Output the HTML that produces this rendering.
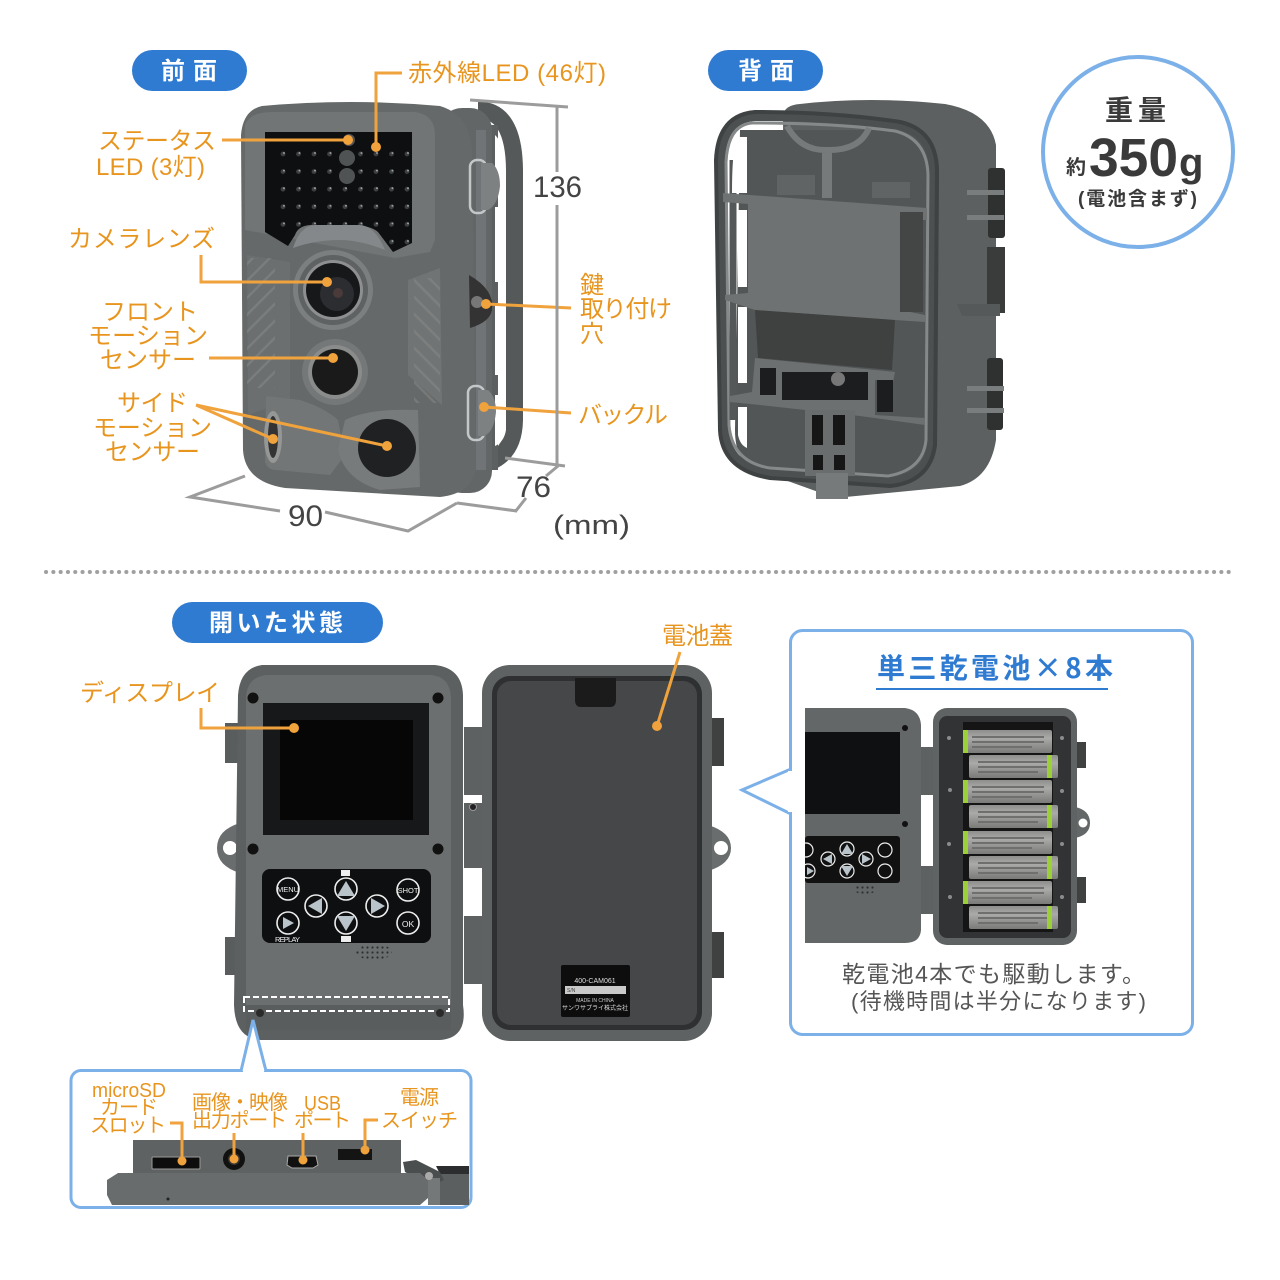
<!DOCTYPE html>
<html><head><meta charset="utf-8"><style>
html,body{margin:0;padding:0;background:#fff}
svg{display:block}
text{font-family:"Liberation Sans","Noto Sans CJK JP",sans-serif}
.o{fill:#e8951f;font-size:24px}
.s{fill:#e8951f;font-size:20px}
.g{fill:#444;font-size:30px}
.w{fill:#fff;font-size:24px;font-weight:700}
.l{fill:none;stroke:#f0a23c;stroke-width:3}
.d{fill:#f0a23c}
.dm{fill:none;stroke:#9c9c9c;stroke-width:3}
.k{fill:none;stroke:#eee;stroke-width:1.6}
.a{fill:#b9c4ca}
</style></head><body>
<svg width="1280" height="1280" viewBox="0 0 1280 1280" xmlns="http://www.w3.org/2000/svg">
<defs>
<pattern id="leds" x="275" y="146" width="15.5" height="17.6" patternUnits="userSpaceOnUse"><circle cx="8" cy="8" r="2.4" fill="#3c4042"/><circle cx="9" cy="7" r="1" fill="#9da2a2"/></pattern>
<pattern id="vent" width="12" height="12" patternUnits="userSpaceOnUse" patternTransform="rotate(-45)"><rect width="12" height="2.5" fill="#8b8d8d"/></pattern>
<pattern id="vent2" width="12" height="12" patternUnits="userSpaceOnUse" patternTransform="rotate(45)"><rect width="12" height="2.5" fill="#8b8d8d"/></pattern>
<pattern id="spk" width="5" height="5" patternUnits="userSpaceOnUse"><circle cx="2.5" cy="2.5" r="1.1" fill="#2e3030"/></pattern>
<linearGradient id="batg" x1="0" y1="0" x2="0" y2="1"><stop offset="0" stop-color="#8e8e8c"/><stop offset=".35" stop-color="#aaaaa8"/><stop offset="1" stop-color="#7a7a78"/></linearGradient>
<g id="bat"><rect x="0" y="0" width="89" height="23" rx="2" fill="url(#batg)"/><rect x="9" y="6" width="72" height="2" fill="#6f6f6d"/><rect x="9" y="11" width="72" height="2" fill="#6f6f6d"/><rect x="9" y="16" width="60" height="2" fill="#6f6f6d"/></g>
<clipPath id="mini"><rect x="805" y="700" width="130" height="250"/></clipPath>
</defs>

<!-- pills -->
<rect x="132" y="50" width="115" height="41" rx="20.5" fill="#2f7bd2"/>
<text class="w" x="161" y="79" textLength="56">前面</text>
<rect x="708" y="50" width="115" height="41" rx="20.5" fill="#2f7bd2"/>
<text class="w" x="738" y="79" textLength="56">背面</text>
<rect x="172" y="602" width="211" height="41" rx="20.5" fill="#2f7bd2"/>
<text class="w" x="209" y="631" textLength="134">開いた状態</text>

<!-- FRONT CAMERA -->
<path d="M478 110 Q514 110 514.5 170 L514.5 420 Q514 452 490 462" fill="none" stroke="#55595a" stroke-width="17"/>
<rect x="470" y="125" width="28" height="345" fill="#5d6061"/>
<path d="M495 135 Q506 145 506 187 H495Z M495 207 H506 V282 H495Z M495 303 H506 V375 H495Z M495 395 H506 V430 Q504 442 495 446Z" fill="#fff"/>
<rect x="440" y="108" width="52" height="385" rx="22" fill="#636667"/>
<rect x="476" y="130" width="10" height="340" fill="#7b8085" opacity=".55"/>
<path d="M262 106 Q350 98 440 106 Q470 115 472 150 L476 470 Q470 494 440 497 L285 488 Q245 482 243 450 L241 135 Q243 110 262 106Z" fill="#666969"/>
<path d="M245 125 Q250 112 272 112 H415 Q435 115 435 135 V240 L430 252 L395 258 L245 230Z" fill="#727575"/>
<path d="M265 132 H412 V243 L393 252 L378 232 Q370 225 350 225 H310 Q298 226 295 235 L288 246 L265 232Z" fill="#0e0f10"/>
<path d="M278 146 H412 V243 L393 252 L378 232 Q370 225 350 225 H310 Q298 226 295 235 L288 240 L278 234Z" fill="url(#leds)"/>
<circle cx="347" cy="158" r="8" fill="#4f5353"/><circle cx="347" cy="176" r="8" fill="#4f5353"/><circle cx="349" cy="140" r="6" fill="#555"/>
<path d="M293 248 Q300 226 315 225 H360 Q375 226 385 250 Q360 240 340 240 Q315 240 293 248Z" fill="#85888a"/>
<path d="M247 255 L290 262 L290 400 L248 415Z" fill="#6c6f6f"/>
<rect x="247" y="258" width="28" height="130" fill="url(#vent)" opacity=".45"/>
<path d="M408 280 L440 268 L442 405 L408 375Z" fill="#717474"/>
<rect x="414" y="278" width="26" height="125" fill="url(#vent2)" opacity=".45"/>
<circle cx="333" cy="290" r="40" fill="#7c7f7f"/><circle cx="333" cy="290" r="35" fill="#5f6262"/><circle cx="333" cy="290" r="30" fill="#8d8f90"/><circle cx="333" cy="290" r="27" fill="#17181a"/><circle cx="337" cy="294" r="17" fill="#2b2d30"/><circle cx="338" cy="293" r="5" fill="#4a3a3a"/>
<circle cx="335" cy="372" r="33" fill="#757878"/><circle cx="335" cy="372" r="27" fill="#8a8c8c"/><circle cx="335" cy="372" r="23" fill="#1a1a1a"/>
<path d="M266 396 L300 400 Q325 408 338 420 L345 455 L330 475 L276 470 Q268 470 265 462Z" fill="#737676"/>
<ellipse cx="273" cy="437" rx="9" ry="26" fill="#959797"/><ellipse cx="273" cy="437" rx="5" ry="21" fill="#333"/>
<path d="M345 420 Q370 408 418 410 L420 487 L380 490 Q345 480 338 450Z" fill="#787b7b"/>
<circle cx="387" cy="448" r="29" fill="#202122"/>
<rect x="470" y="160" width="16" height="53" rx="7" fill="none" stroke="#c4c7c7" stroke-width="2.5"/><path d="M481 163 H492 Q500 170 500 186 Q498 205 488 210 H481Z" fill="#7e8181"/>
<rect x="468" y="386" width="16" height="54" rx="7" fill="none" stroke="#c4c7c7" stroke-width="2.5"/><path d="M478 390 H488 Q496 397 496 412 Q494 432 484 436 H478Z" fill="#7e8181"/>
<path d="M469 275 Q495 290 492 310 Q490 322 470 328Z" fill="#333"/><circle cx="477" cy="302" r="6" fill="#777"/>

<!-- front leaders -->
<path class="l" d="M402 73 H376 V147"/><circle class="d" cx="376" cy="147" r="5"/>
<path class="l" d="M222 140 H350"/><circle class="d" cx="348" cy="140" r="5"/>
<path class="l" d="M201 255 V282 H327"/><circle class="d" cx="327" cy="282" r="5"/>
<path class="l" d="M209 358 H333"/><circle class="d" cx="333" cy="358" r="5"/>
<path class="l" d="M196 405 L273 439 M196 405 L387 446"/><circle class="d" cx="273" cy="439" r="5"/><circle class="d" cx="387" cy="446" r="5"/>
<path class="l" d="M486 304 L571 308"/><circle class="d" cx="486" cy="304" r="5"/>
<path class="l" d="M484 407 L571 413"/><circle class="d" cx="484" cy="407" r="5"/>

<!-- dims -->
<path class="dm" d="M470 100 L568 107 M557 107 V172 M557 205 V465 M505 458 L565 466 M558 466 L546 476 M526 498 L515 512 M457 503 L517 511"/>
<path class="dm" d="M245 476 L190 497 L280 511 M325 512 L408 531 L457 503"/>

<!-- front labels -->
<text class="o" x="408" y="81" textLength="198">赤外線LED (46灯)</text>
<text class="o" x="98" y="149" textLength="118">ステータス</text>
<text class="o" x="96" y="175" textLength="109">LED (3灯)</text>
<text class="o" x="68" y="247" textLength="147">カメラレンズ</text>
<text class="o" x="102" y="320" textLength="96">フロント</text>
<text class="o" x="88" y="344" textLength="120">モーション</text>
<text class="o" x="100" y="368" textLength="96">センサー</text>
<text class="o" x="117" y="411" textLength="71">サイド</text>
<text class="o" x="93" y="436" textLength="119">モーション</text>
<text class="o" x="105" y="460" textLength="95">センサー</text>
<text class="o" x="580" y="293">鍵</text>
<text class="o" x="580" y="317" textLength="92">取り付け</text>
<text class="o" x="580" y="342">穴</text>
<text class="o" x="578" y="423" textLength="90">バックル</text>
<text class="g" x="533" y="197" textLength="49" lengthAdjust="spacingAndGlyphs">136</text>
<text class="g" x="288" y="526" textLength="35" lengthAdjust="spacingAndGlyphs">90</text>
<text class="g" x="516" y="497" textLength="35" lengthAdjust="spacingAndGlyphs">76</text>
<text x="553" y="534" fill="#444" style="font-size:27px" textLength="77" lengthAdjust="spacingAndGlyphs">(mm)</text>

<!-- BACK CAMERA -->
<path d="M800 104 Q870 96 945 104 Q990 112 996 145 V440 Q990 478 960 486 L835 498 L785 480 L783 115 Q785 105 800 104Z" fill="#5d6060"/>
<path d="M740 130 H900 Q930 130 932 160 V450 Q925 480 890 480 L760 472 Q735 465 735 430Z" fill="#535656"/>
<!-- ring with interior band -->
<path d="M755 116 Q835 116 900 125 Q933 133 934 170 L932 445 Q928 478 890 482 L770 474 Q726 468 724 428 L720 160 Q722 118 755 116Z" fill="none" stroke="#4d5050" stroke-width="10"/>
<path d="M755 112 Q835 112 900 122 Q936 130 937 170 L935 445 Q930 482 890 486 L770 478 Q722 470 720 430 L716 160 Q718 115 755 112Z" fill="none" stroke="#3f4242" stroke-width="4"/>
<path d="M752 123 Q835 123 895 131 Q927 139 928 175 L926 440 Q923 470 888 476 L770 468 Q732 462 729 425 L726 162 Q728 125 752 123Z" fill="none" stroke="#868989" stroke-width="3"/>
<path d="M733 160 V420" stroke="#555858" stroke-width="7" fill="none"/>
<path d="M738 137 H747 V193 H732 Q732 145 738 137Z M738 210 H747 V287 H738Z M738 307 H747 V383 H738Z M738 407 H747 V448 Q740 445 738 435Z" fill="#fff"/>
<path d="M787 126 Q800 150 825 150 L825 195 H829 V150 Q860 150 869 128" fill="none" stroke="#777a7a" stroke-width="6"/>
<rect x="777" y="175" width="38" height="20" fill="#616464"/><rect x="872" y="182" width="38" height="16" fill="#616464"/>
<path d="M723 193 L927 208 V220 L900 220 V310 L925 315 V322 L895 320 L755 310 L725 300 V295 L748 293 V204 L723 202Z" fill="#6f7272"/>
<rect x="900" y="212" width="23" height="100" fill="#444646"/>
<path d="M755 310 L895 320 L892 370 L758 358Z" fill="#3f4141"/>
<path d="M755 358 L895 372 L893 382 L875 380 V415 L925 418 V425 L860 416 L760 405 L730 402 V396 L752 392Z" fill="#6d7070"/>
<path d="M782 372 H868 V400 H782Z M760 368 H776 V395 H760Z M877 380 H893 V412 H877Z" fill="#1c1d1e"/>
<circle cx="838" cy="379" r="7" fill="#777"/>
<path d="M805 410 H855 V476 H805Z" fill="#6a6d6d"/>
<path d="M812 415 H823 V445 H812Z M833 415 H845 V445 H833Z M813 455 H823 V470 H813Z M834 455 H845 V470 H834Z" fill="#161616"/>
<rect x="816" y="473" width="32" height="26" fill="#777a7a"/>
<rect x="988" y="168" width="17" height="70" rx="3" fill="#2f3030"/><rect x="987" y="358" width="16" height="72" rx="3" fill="#2f3030"/>
<rect x="967" y="190" width="37" height="5" fill="#7a7d7d"/><rect x="967" y="215" width="37" height="5" fill="#7a7d7d"/><rect x="967" y="386" width="37" height="5" fill="#7a7d7d"/><rect x="967" y="408" width="37" height="5" fill="#7a7d7d"/>
<rect x="987" y="247" width="18" height="66" fill="#3a3b3b"/><path d="M957 304 H1000 V316 H962Z" fill="#565959"/>

<!-- weight badge -->
<circle cx="1138" cy="152" r="95" fill="#fff" stroke="#7cb0e8" stroke-width="4"/>
<text x="1105" y="120" textLength="61" style="font-size:28px;font-weight:700" fill="#3a3a3a">重量</text>
<text x="1066" y="174" style="font-size:20px;font-weight:700" fill="#3a3a3a">約</text>
<text x="1089" y="176" textLength="89" lengthAdjust="spacingAndGlyphs" style="font-size:54px;font-weight:700" fill="#3a3a3a">350</text>
<text x="1179" y="176" style="font-size:40px;font-weight:700" fill="#3a3a3a">g</text>
<text x="1078" y="205" textLength="119" style="font-size:19px;font-weight:700" fill="#3a3a3a">(電池含まず)</text>

<!-- dotted separator -->
<line x1="46" y1="572" x2="1232" y2="572" stroke="#a0a0a0" stroke-width="4" stroke-linecap="round" stroke-dasharray="0.1 7.2"/>

<!-- OPEN CAMERA -->
<rect x="225" y="723" width="15" height="40" fill="#5a5d5d"/><rect x="225" y="937" width="15" height="38" fill="#5a5d5d"/>
<rect x="710" y="718" width="14" height="48" fill="#3f4141"/><rect x="710" y="932" width="14" height="46" fill="#3f4141"/>
<path d="M240 823 Q217 830 217 848 Q217 866 240 873Z" fill="#6a6d6d"/><circle cx="230" cy="848" r="7" fill="#fff"/>
<path d="M708 825 Q731 832 731 848 Q731 864 708 871Z" fill="#6a6d6d"/><circle cx="721" cy="848" r="7" fill="#fff"/>
<rect x="464" y="727" width="20" height="68" fill="#5e6161"/><rect x="464" y="803" width="20" height="65" fill="#5e6161"/><rect x="464" y="916" width="20" height="68" fill="#5e6161"/>
<circle cx="473" cy="807" r="3.5" fill="#222" stroke="#999"/>
<path d="M262 665 H435 Q462 668 463 695 V1005 Q468 1038 440 1040 H260 Q235 1038 234 1005 L238 695 Q240 668 262 665Z" fill="#5d6060"/>
<path d="M268 675 H430 Q450 676 451 698 V1020 Q448 1030 430 1030 H265 Q248 1030 246 1015 L246 698 Q247 676 268 675Z" fill="#6c6f6f"/>
<rect x="246" y="1005" width="205" height="25" fill="#5a5d5d"/>
<rect x="263" y="703" width="166" height="132" fill="#17181a"/><rect x="280" y="720" width="133" height="100" fill="#060606"/>
<circle cx="253" cy="698" r="5.5" fill="#111"/><circle cx="438" cy="698" r="5.5" fill="#111"/><circle cx="253" cy="849" r="5.5" fill="#111"/><circle cx="438" cy="849" r="5.5" fill="#111"/>
<rect x="262" y="869" width="169" height="74" rx="8" fill="#0e0f10"/>
<g>
<circle class="k" cx="288" cy="889" r="11"/><circle class="k" cx="316" cy="906" r="11"/><circle class="k" cx="346" cy="889" r="11"/><circle class="k" cx="346" cy="923" r="11"/><circle class="k" cx="377" cy="906" r="11"/><circle class="k" cx="408" cy="890" r="11"/><circle class="k" cx="408" cy="923" r="11"/><circle class="k" cx="288" cy="923" r="11"/>
<path class="a" d="M346 881 L355 896 H337Z M346 931 L355 916 H337Z M308 906 L322 898 V914Z M385 906 L371 898 V914Z M294 923 L283 917 V929Z"/>
<text x="288" y="892" text-anchor="middle" style="font-size:7.5px" fill="#eee">MENU</text>
<text x="408" y="893" text-anchor="middle" style="font-size:7.5px" fill="#eee">SHOT</text>
<text x="408" y="927" text-anchor="middle" style="font-size:8.5px" fill="#eee">OK</text>
<text x="275" y="942" style="font-size:7.5px" fill="#eee" textLength="25">REPLAY</text>
<rect x="341" y="870" width="9" height="6" fill="#eee"/><rect x="341" y="936" width="10" height="6" fill="#eee"/>
</g>
<ellipse cx="374" cy="952" rx="18" ry="8" fill="url(#spk)"/>
<rect x="244" y="997" width="205" height="14" fill="none" stroke="#fff" stroke-width="2" stroke-dasharray="6 3"/>
<circle cx="260" cy="1013" r="4" fill="#2a2a2a"/><circle cx="440" cy="1013" r="4" fill="#2a2a2a"/>

<rect x="482" y="665" width="230" height="376" rx="28" fill="#5f6262"/>
<rect x="492" y="676" width="210" height="354" rx="18" fill="#2e3031"/>
<rect x="497" y="681" width="200" height="344" rx="14" fill="#454748"/>
<path d="M575 678 H616 V700 Q616 707 610 707 H581 Q575 707 575 700Z" fill="#1b1b1c"/>
<rect x="561" y="965" width="69" height="52" rx="2" fill="#0d0d0d"/>
<text x="595" y="983" text-anchor="middle" style="font-size:7px" fill="#ddd">400-CAM061</text>
<rect x="565" y="986" width="61" height="8" fill="#c9c9c9"/>
<text x="567" y="992" style="font-size:5px" fill="#444">S/N</text>
<text x="595" y="1002" text-anchor="middle" style="font-size:5px" fill="#ccc">MADE IN CHINA</text>
<text x="595" y="1010" text-anchor="middle" style="font-size:6px" fill="#ddd">サンワサプライ株式会社</text>

<!-- open leaders/labels -->
<path class="l" d="M201 708 V728 H292"/><circle class="d" cx="294" cy="728" r="5"/>
<path class="l" d="M680 652 L657 726"/><circle class="d" cx="657" cy="726" r="5"/>
<text class="o" x="80" y="701" textLength="140">ディスプレイ</text>
<text class="o" x="662" y="644" textLength="71">電池蓋</text>

<!-- battery callout -->
<rect x="790.5" y="630.5" width="402" height="404" rx="12" fill="#fff" stroke="#7cb0e8" stroke-width="3"/>
<path d="M791 769 L742 790 L791 814" fill="#fff" stroke="#7cb0e8" stroke-width="3"/>
<rect x="788" y="771" width="5" height="41" fill="#fff"/>
<text x="877" y="678" textLength="236" style="font-size:28px;font-weight:700;font-family:'Noto Sans CJK JP',sans-serif" fill="#2f7bd2">単三乾電池×8本</text>
<rect x="876" y="688" width="232" height="2" fill="#2f7bd2"/>
<path d="M805 708 H905 Q920 710 921 725 V930 Q920 943 905 943 H805Z" fill="#646767"/>
<rect x="805" y="732" width="95" height="82" fill="#0f1011"/>
<circle cx="905" cy="728" r="3" fill="#111"/><circle cx="905" cy="824" r="3" fill="#111"/>
<ellipse cx="865" cy="889" rx="12" ry="5" fill="url(#spk)"/>
<rect x="805" y="836" width="95" height="47" rx="3" fill="#111"/>
<g clip-path="url(#mini)"><g fill="none" stroke="#eee" stroke-width="1.2"><circle cx="806" cy="850" r="7"/><circle cx="828" cy="859" r="7"/><circle cx="847" cy="849" r="7"/><circle cx="847" cy="871" r="7"/><circle cx="866" cy="859" r="7"/><circle cx="885" cy="850" r="7"/><circle cx="885" cy="871" r="7"/><circle cx="808" cy="871" r="7"/></g>
<path class="a" d="M847 844 L853 854 H841Z M847 876 L853 866 H841Z M823 859 L832 854 V864Z M871 859 L862 854 V864Z M814 871 L807 867 V875Z"/></g>
<rect x="921" y="747" width="12" height="48" fill="#5e6161"/><rect x="921" y="866" width="12" height="48" fill="#5e6161"/>
<rect x="1075" y="742" width="11" height="26" fill="#3f4141"/><rect x="1075" y="877" width="11" height="26" fill="#3f4141"/>
<path d="M1075 807 Q1090 810 1090 823 Q1090 835 1075 838Z" fill="#646767"/><circle cx="1083" cy="823" r="4.5" fill="#fff"/>
<rect x="933" y="708" width="144" height="237" rx="14" fill="#606363"/>
<rect x="939" y="716" width="132" height="222" rx="8" fill="#323334"/>
<rect x="963" y="722" width="90" height="210" fill="#151516"/>
<g fill="#8a8c8c"><circle cx="949" cy="738" r="2"/><circle cx="950" cy="790" r="2"/><circle cx="949" cy="844" r="2"/><circle cx="950" cy="897" r="2"/><circle cx="1062" cy="738" r="2"/><circle cx="1062" cy="791" r="2"/><circle cx="1062" cy="844" r="2"/><circle cx="1062" cy="897" r="2"/></g>
<use href="#bat" x="963" y="730"/><use href="#bat" x="969" y="755"/><use href="#bat" x="963" y="780"/><use href="#bat" x="969" y="805"/><use href="#bat" x="963" y="831"/><use href="#bat" x="969" y="856"/><use href="#bat" x="963" y="881"/><use href="#bat" x="969" y="906"/>
<g fill="#9bd136"><rect x="963" y="730" width="5" height="23"/><rect x="1047" y="755" width="5" height="23"/><rect x="963" y="780" width="5" height="23"/><rect x="1047" y="805" width="5" height="23"/><rect x="963" y="831" width="5" height="23"/><rect x="1047" y="856" width="5" height="23"/><rect x="963" y="881" width="5" height="23"/><rect x="1047" y="906" width="5" height="23"/></g>
<text x="842" y="982" textLength="303" style="font-size:23px" fill="#555">乾電池4本でも駆動します。</text>
<text x="851" y="1009" textLength="295" style="font-size:22px" fill="#555">(待機時間は半分になります)</text>

<!-- ports callout -->
<rect x="71" y="1070.5" width="400" height="137" rx="10" fill="#fff" stroke="#7cb0e8" stroke-width="3"/>
<path d="M241 1071 L253 1020 L266 1071" fill="#fff" stroke="#7cb0e8" stroke-width="3"/>
<rect x="243" y="1068" width="21" height="5" fill="#fff"/>
<rect x="133" y="1140" width="268" height="36" fill="#5f6262"/>
<path d="M440 1170 H469 V1205 H440Z" fill="#5c5f5f"/><path d="M436 1166 H469 V1174 H440Z" fill="#2c2d2e"/>
<path d="M403 1162 L416 1160 L440 1172 L444 1180 L430 1186 L405 1172Z" fill="#4b4e4e"/>
<path d="M118 1173 H420 L428 1180 V1198 L420 1205 H112 L107 1195 V1180Z" fill="#696c6c"/>
<rect x="428" y="1178" width="12" height="27" fill="#757878"/>
<circle cx="429" cy="1176" r="4" fill="#aaa"/><circle cx="168" cy="1199" r="1.5" fill="#222"/>
<rect x="152" y="1157" width="48" height="12" rx="1" fill="#0d0d0d" stroke="#999" stroke-width="1"/>
<circle cx="234" cy="1159" r="11" fill="#111"/><circle cx="234" cy="1159" r="6" fill="#343434"/>
<path d="M288 1156 H316 L318 1165 L313 1168 H292 L287 1165Z" fill="#111" stroke="#aaa" stroke-width="1"/>
<rect x="338" y="1149" width="34" height="11" fill="#141414"/>
<path class="l" d="M170 1123 H182 V1160"/><circle class="d" cx="182" cy="1161" r="4.5"/>
<path class="l" d="M234 1133 V1158"/><circle class="d" cx="234" cy="1159" r="4.5"/>
<path class="l" d="M303 1133 V1160"/><circle class="d" cx="303" cy="1160" r="4.5"/>
<path class="l" d="M378 1120 H365 V1150"/><circle class="d" cx="365" cy="1150" r="4.5"/>
<text class="s" x="92" y="1097" textLength="74" lengthAdjust="spacingAndGlyphs">microSD</text>
<text class="s" x="100" y="1114" textLength="58">カード</text>
<text class="s" x="90" y="1132" textLength="76">スロット</text>
<text class="s" x="192" y="1109" textLength="96">画像・映像</text>
<text class="s" x="192" y="1127" textLength="95">出力ポート</text>
<text class="s" x="304" y="1110" textLength="37" lengthAdjust="spacingAndGlyphs">USB</text>
<text class="s" x="294" y="1127" textLength="57">ポート</text>
<text class="s" x="400" y="1104" textLength="39">電源</text>
<text class="s" x="381" y="1127" textLength="77">スイッチ</text>
</svg>
</body></html>
